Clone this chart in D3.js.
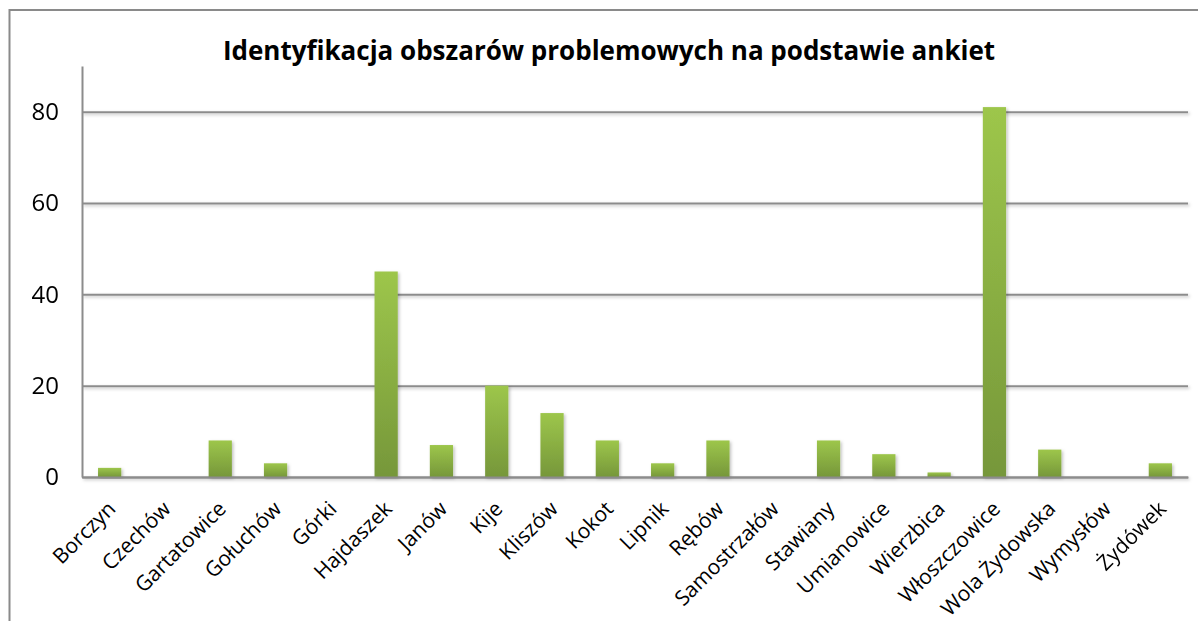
<!DOCTYPE html>
<html>
<head>
<meta charset="utf-8">
<script src="https://cdn.jsdelivr.net/npm/d3@7/dist/d3.min.js"></script>
<style>
  html, body { margin: 0; padding: 0; background: #fff; }
  .chart-title { font-family: "Open Sans", sans-serif; font-weight: bold; font-size: 26px; fill: #000; }
  .axis text { font-family: "Open Sans", sans-serif; fill: #000; }
  .grid line { stroke: #8c8c8c; stroke-width: 2; }
  .grid .domain { display: none; }
</style>
</head>
<body>
<div id="chart"></div>
<script>
// Data
const categories = [
  "Borczyn", "Czechów", "Gartatowice", "Gołuchów", "Górki", "Hajdaszek", "Janów",
  "Kije", "Kliszów", "Kokot", "Lipnik", "Rębów", "Samostrzałów", "Stawiany",
  "Umianowice", "Wierzbica", "Włoszczowice", "Wola Żydowska", "Wymysłów", "Żydówek"
];
const values = [2, 0, 8, 3, 0, 45, 7, 20, 14, 8, 3, 8, 0, 8, 5, 1, 81, 6, 0, 3];
const yTicks = [0, 20, 40, 60, 80];
const yMax = 90;
const title = "Identyfikacja obszarów problemowych na podstawie ankiet";

const width = 1198, height = 621;
const margin = { top: 66, right: 10, bottom: 144, left: 82 };
const innerWidth = 1188 - margin.left;
const innerHeight = 477 - margin.top;

const svg = d3.select("#chart").append("svg")
  .attr("width", width)
  .attr("height", height);

const defs = svg.append("defs");
const grad = defs.append("linearGradient")
  .attr("id", "barGrad")
  .attr("x1", 0).attr("y1", 0).attr("x2", 0).attr("y2", 1);
grad.append("stop").attr("offset", "0%").attr("stop-color", "#9dc64b");
grad.append("stop").attr("offset", "100%").attr("stop-color", "#76973a");

const shadow = defs.append("filter").attr("id", "shadow")
  .attr("x", "-30%").attr("y", "-10%").attr("width", "160%").attr("height", "130%");
shadow.append("feDropShadow")
  .attr("dx", 1.5).attr("dy", 1.5).attr("stdDeviation", 1.5)
  .attr("flood-color", "#000").attr("flood-opacity", 0.25);

// outer chart frame (runs off right and bottom edges)
svg.append("rect")
  .attr("x", 9.5).attr("y", 10)
  .attr("width", width + 20).attr("height", height + 20)
  .attr("fill", "none").attr("stroke", "#8a8a8a").attr("stroke-width", 2);

svg.append("text")
  .attr("class", "chart-title")
  .attr("x", 609)
  .attr("y", 60)
  .attr("text-anchor", "middle")
  .text(title);

const plot = svg.append("g").attr("transform", `translate(${margin.left},${margin.top})`);

const x = d3.scaleBand().domain(categories).range([0, innerWidth]).paddingInner(0.58).paddingOuter(0.29);
const y = d3.scaleLinear().domain([0, yMax]).range([innerHeight, 0]);

// horizontal gridlines
plot.append("g")
  .attr("class", "grid")
  .attr("filter", "url(#shadow)")
  .call(d3.axisLeft(y).tickValues(yTicks).tickSize(-innerWidth).tickFormat(""));

// y axis
const yAxisG = plot.append("g")
  .attr("class", "axis")
  .call(d3.axisLeft(y).tickValues(yTicks).tickSize(0).tickPadding(23).tickSizeOuter(0));
yAxisG.select(".domain").attr("stroke", "#8c8c8c").attr("stroke-width", 2);
yAxisG.selectAll("text").style("font-size", "24px");

// bars
plot.append("g")
  .selectAll("rect")
  .data(values)
  .join("rect")
  .attr("x", (d, i) => x(categories[i]))
  .attr("width", x.bandwidth())
  .attr("y", d => y(d))
  .attr("height", d => innerHeight - y(d))
  .attr("fill", "url(#barGrad)")
  .attr("filter", "url(#shadow)");

// x axis
const xAxisG = plot.append("g")
  .attr("class", "axis")
  .attr("transform", `translate(0,${innerHeight})`)
  .call(d3.axisBottom(x).tickSize(0).tickSizeOuter(0));
xAxisG.select(".domain").attr("stroke", "#8c8c8c").attr("stroke-width", 2);
xAxisG.selectAll("text")
  .style("font-size", "21px")
  .attr("text-anchor", "end")
  .attr("dx", 0)
  .attr("dy", 0)
  .attr("transform", "translate(5,31) rotate(-45)");
</script>
</body>
</html>
